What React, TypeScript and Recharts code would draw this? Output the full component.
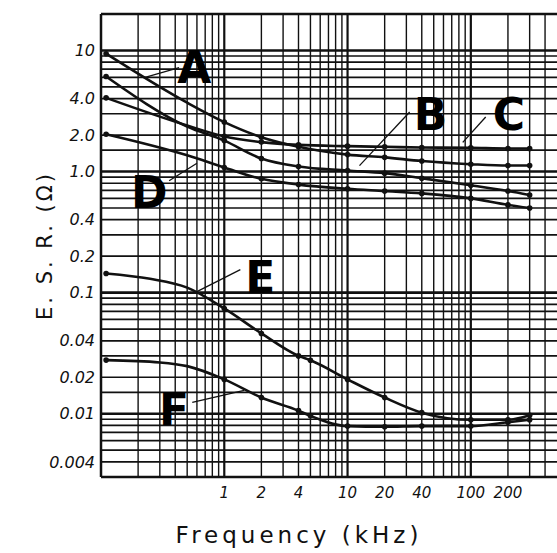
import React from 'react';
import { LineChart, Line, XAxis, YAxis, ReferenceLine, ReferenceDot } from 'recharts';

// ESR vs frequency
const FREQ_ABCD = [0.11, 0.5, 1, 2, 4, 10, 20, 40, 100, 200, 300];
const ESR_A = [9.4, 3.7, 2.56, 1.92, 1.6, 1.38, 1.31, 1.22, 1.15, 1.12, 1.12];
const ESR_B = [6.1, 2.35, 1.8, 1.28, 1.1, 1.02, 0.97, 0.88, 0.77, 0.69, 0.64];
const ESR_C = [4.06, 2.4, 1.95, 1.75, 1.66, 1.62, 1.6, 1.58, 1.57, 1.55, 1.55];
const ESR_D = [2.03, 1.36, 1.08, 0.87, 0.78, 0.72, 0.69, 0.66, 0.6, 0.53, 0.5];

const FREQ_E = [0.11, 0.25, 0.5, 1, 2, 4, 5, 10, 20, 40, 100, 200, 300];
const ESR_E = [0.144, 0.13, 0.11, 0.074, 0.046, 0.03, 0.0276, 0.0192, 0.0136, 0.0102, 0.0089, 0.0089, 0.0097];

const FREQ_F = [0.11, 0.3, 0.5, 1, 2, 4, 5, 10, 20, 40, 100, 200, 300];
const ESR_F = [0.0277, 0.0265, 0.0247, 0.0192, 0.0136, 0.0106, 0.0096, 0.0079, 0.0078, 0.0079, 0.0079, 0.0085, 0.0089];

// points drawn only as curve shape, no dot in the original
const NO_DOT = [0.25, 0.3, 0.5];

const X_TICKS = [1, 2, 4, 10, 20, 40, 100, 200];
const Y_TICKS = [10, 4, 2, 1, 0.4, 0.2, 0.1, 0.04, 0.02, 0.01, 0.004];
const Y_LABELS: Record<string, string> = { '10': '10', '4': '4.0', '2': '2.0', '1': '1.0' };

// graph paper lines
const V_GRID = [
  0.2, 0.3, 0.4, 0.5, 0.6, 0.7, 0.8, 0.9,
  1, 2, 3, 4, 5, 6, 7, 8, 9,
  10, 20, 30, 40, 50, 60, 70, 80, 90,
  100, 200, 300, 400,
];
const H_GRID = [
  0.004, 0.005, 0.006, 0.007, 0.008, 0.009,
  0.01, 0.015, 0.02, 0.03, 0.04, 0.05, 0.06, 0.07, 0.08, 0.09,
  0.1, 0.2, 0.3, 0.4, 0.5, 0.6, 0.7, 0.8, 0.9,
  1, 1.5, 2, 3, 4, 5, 6, 7, 8, 9,
  10,
];
const DECADES = [0.01, 0.1, 1, 10, 100];

// curve letters and their pointer arrows (data coordinates)
const LETTERS = [
  { t: 'A', f: 0.57, v: 7.2 },
  { t: 'B', f: 47, v: 2.98 },
  { t: 'C', f: 204, v: 2.98 },
  { t: 'D', f: 0.246, v: 0.668 },
  { t: 'E', f: 1.96, v: 0.133 },
  { t: 'F', f: 0.392, v: 0.0108 },
];
const ARROWS = [
  [{ x: 0.43, y: 7.2 }, { x: 0.224, y: 5.96 }],
  [{ x: 31.9, y: 3.1 }, { x: 12.5, y: 1.12 }],
  [{ x: 132, y: 2.82 }, { x: 86, y: 1.74 }],
  [{ x: 0.357, y: 0.84 }, { x: 0.6, y: 1.17 }],
  [{ x: 1.35, y: 0.155 }, { x: 0.6, y: 0.102 }],
  [{ x: 0.55, y: 0.0124 }, { x: 1.45, y: 0.0156 }],
];

const pts = (fs: number[], vs: number[]) => fs.map((f, i) => ({ f, v: vs[i] }));

const series = [
  { key: 'A', data: pts(FREQ_ABCD, ESR_A) },
  { key: 'B', data: pts(FREQ_ABCD, ESR_B) },
  { key: 'C', data: pts(FREQ_ABCD, ESR_C) },
  { key: 'D', data: pts(FREQ_ABCD, ESR_D) },
  { key: 'E', data: pts(FREQ_E, ESR_E) },
  { key: 'F', data: pts(FREQ_F, ESR_F) },
];

const INK = '#111';
const hand = { fontFamily: '"DejaVu Sans", sans-serif', fontStyle: 'italic' as const };

const renderDot = (props: any) => {
  const { cx, cy, payload, index } = props;
  const skip = NO_DOT.includes(payload.f);
  return <circle key={index} cx={cx} cy={cy} r={skip ? 0 : 2.8} fill={INK} />;
};

export default function App() {
  return (
    <div style={{ position: 'absolute', left: 0, top: 0, background: '#fff' }}>
      <LineChart width={557} height={553} margin={{ top: 14, right: 0, bottom: 0, left: 0 }}>
        <XAxis
          dataKey="f"
          type="number"
          scale="log"
          domain={[0.1, 500]}
          allowDataOverflow
          ticks={X_TICKS}
          tickFormatter={(v) => String(v)}
          height={76}
          tickSize={0}
          tickMargin={10}
          axisLine={{ stroke: INK, strokeWidth: 2.5 }}
          tick={{ fill: INK, fontSize: 15, ...hand }}
          label={{
            value: 'Frequency (kHz)',
            position: 'center',
            dx: -30,
            dy: 20,
            fill: INK,
            fontSize: 23,
            letterSpacing: 4,
            fontFamily: '"DejaVu Sans", sans-serif',
          }}
        />
        <YAxis
          type="number"
          scale="log"
          domain={[0.003, 20]}
          allowDataOverflow
          ticks={Y_TICKS}
          tickFormatter={(v) => Y_LABELS[String(v)] ?? String(v)}
          width={101}
          tickSize={0}
          tickMargin={6}
          axisLine={{ stroke: INK, strokeWidth: 2.5 }}
          tick={{ fill: INK, fontSize: 16, ...hand }}
          label={{
            value: 'E. S. R. (Ω)',
            angle: -90,
            position: 'center',
            dx: -6,
            fill: INK,
            fontSize: 21,
            letterSpacing: 3,
            fontFamily: '"DejaVu Sans", sans-serif',
          }}
        />
        {V_GRID.map((g) => (
          <ReferenceLine key={'v' + g} x={g} stroke={INK} strokeWidth={DECADES.includes(g) ? 2.2 : 1.4} />
        ))}
        {H_GRID.map((g) => (
          <ReferenceLine key={'h' + g} y={g} stroke={INK} strokeWidth={DECADES.includes(g) ? 2.6 : 1.7} />
        ))}
        <ReferenceLine y={20} stroke={INK} strokeWidth={2.5} />
        {ARROWS.map((seg, i) => (
          <ReferenceLine key={'a' + i} segment={seg} stroke={INK} strokeWidth={1.3} />
        ))}
        {series.map((s) => (
          <Line
            key={s.key}
            data={s.data}
            dataKey="v"
            type="monotone"
            stroke={INK}
            strokeWidth={2.6}
            dot={renderDot}
            activeDot={false}
            isAnimationActive={false}
          />
        ))}
        {LETTERS.map((l) => (
          <ReferenceDot
            key={l.t}
            x={l.f}
            y={l.v}
            r={1}
            fill="none"
            stroke="none"
            label={{
              value: l.t,
              position: 'center',
              fill: '#000',
              fontSize: 44,
              fontWeight: 900,
              fontFamily: '"DejaVu Sans", sans-serif',
            }}
          />
        ))}
      </LineChart>
    </div>
  );
}
